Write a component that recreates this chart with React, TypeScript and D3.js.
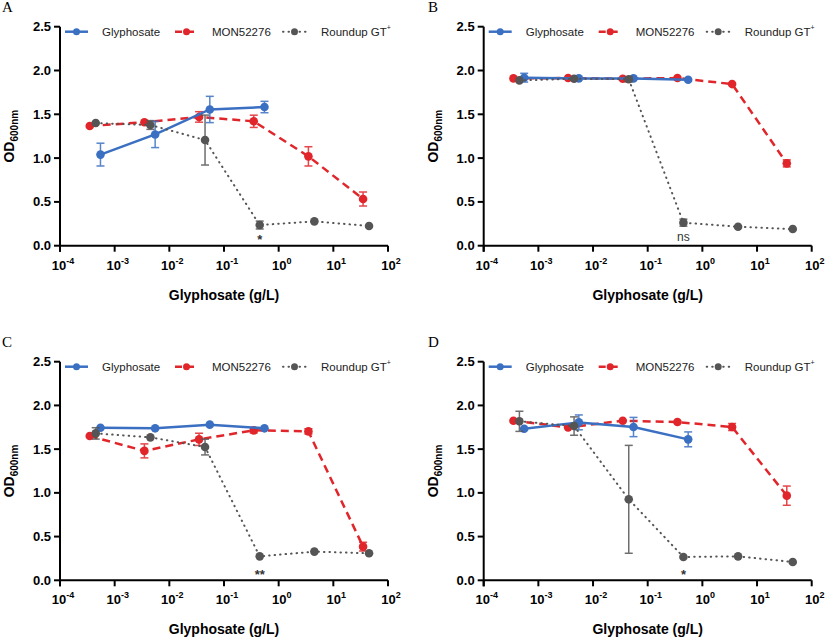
import React from "react";
import * as d3 from "d3";

// concentrations (g/L)
const xGly = [0.00055, 0.0055, 0.055, 0.55];
const xMon = [0.00035, 0.0035, 0.035, 0.35, 3.5, 35];
const xRup = [0.00045, 0.0045, 0.045, 0.45, 4.5, 45];

const panelLabels = ["A", "B", "C", "D"];

// Panel A
const glyA = [1.04, 1.27, 1.555, 1.583];
const glyAErr = [0.13, 0.15, 0.15, 0.065];
const monA = [1.366, 1.41, 1.47, 1.42, 1.02, 0.533];
const monAErr = [0.02, 0.02, 0.06, 0.07, 0.11, 0.08];
const rupA = [1.4, 1.378, 1.206, 0.236, 0.278, 0.225];
const rupAErr = [0.015, 0.05, 0.285, 0.045, 0.02, 0.015];

// Panel B
const glyB = [1.918, 1.91, 1.91, 1.895];
const glyBErr = [0.05, 0.015, 0.015, 0.015];
const monB = [1.91, 1.914, 1.906, 1.914, 1.845, 0.94];
const monBErr = [0.015, 0.015, 0.02, 0.015, 0.02, 0.04];
const rupB = [1.887, 1.906, 1.9, 0.263, 0.217, 0.19];
const rupBErr = [0.02, 0.015, 0.03, 0.04, 0.015, 0.015];

// Panel C
const glyC = [1.745, 1.738, 1.78, 1.738];
const glyCErr = [0.015, 0.015, 0.015, 0.015];
const monC = [1.65, 1.48, 1.612, 1.715, 1.703, 0.385];
const monCErr = [0.02, 0.08, 0.07, 0.03, 0.03, 0.05];
const rupC = [1.68, 1.635, 1.524, 0.274, 0.328, 0.309];
const rupCErr = [0.065, 0.015, 0.09, 0.015, 0.015, 0.015];

// Panel D
const glyD = [1.734, 1.806, 1.753, 1.612];
const glyDErr = [0.015, 0.085, 0.11, 0.085];
const monD = [1.825, 1.749, 1.825, 1.81, 1.753, 0.968];
const monDErr = [0.015, 0.015, 0.015, 0.015, 0.04, 0.11];
const rupD = [1.818, 1.764, 0.926, 0.267, 0.274, 0.21];
const rupDErr = [0.115, 0.105, 0.617, 0.015, 0.015, 0.015];

const sigLabels = ["*", "ns", "**", "*"];
const sigX = 0.45;

const yTicks = [0, 0.5, 1.0, 1.5, 2.0, 2.5];
const xTickExps = [-4, -3, -2, -1, 0, 1, 2];
const legendNames = ["Glyphosate", "MON52276", "Roundup GT"];

const BLUE = "#3a6fc2";
const RED = "#e0262b";
const GRAY = "#555555";
const FONT = "'Liberation Sans', Arial, Helvetica, sans-serif";

type PanelData = {
  gly: number[]; glyErr: number[];
  mon: number[]; monErr: number[];
  rup: number[]; rupErr: number[];
};

const panels: PanelData[] = [
  { gly: glyA, glyErr: glyAErr, mon: monA, monErr: monAErr, rup: rupA, rupErr: rupAErr },
  { gly: glyB, glyErr: glyBErr, mon: monB, monErr: monBErr, rup: rupB, rupErr: rupBErr },
  { gly: glyC, glyErr: glyCErr, mon: monC, monErr: monCErr, rup: rupC, rupErr: rupCErr },
  { gly: glyD, glyErr: glyDErr, mon: monD, monErr: monDErr, rup: rupD, rupErr: rupDErr },
];

const offsets = [
  { ox: 0, oy: 0, ax: 60, top: 26.7, bot: 245.7 },
  { ox: 412, oy: 0, ax: 71.7, top: 26.7, bot: 245.7 },
  { ox: 0, oy: 320, ax: 60, top: 41.7, bot: 260.3 },
  { ox: 412, oy: 320, ax: 71.7, top: 41.7, bot: 260.3 },
];

const AXW = 328;

function Series({ xs, ys, errs, x, y, color, dash, width, cap }: any) {
  const line = d3.line<number>().x((_, i) => x(xs[i])).y((d) => y(d));
  return (
    <g>
      <path d={line(ys) || ""} fill="none" stroke={color} strokeWidth={width}
        strokeDasharray={dash} strokeLinecap={dash === "0.5 5" ? "round" : "butt"} />
      {ys.map((v: number, i: number) => {
        const cx = x(xs[i]);
        const e = errs[i];
        const y1 = y(v + e), y2 = y(v - e);
        return (
          <g key={i}>
            {Math.abs(y2 - y1) > 5 && (
              <g stroke={color} strokeWidth={1.5} opacity={0.85}>
                <line x1={cx} x2={cx} y1={y1} y2={y2} />
                <line x1={cx - cap} x2={cx + cap} y1={y1} y2={y1} />
                <line x1={cx - cap} x2={cx + cap} y1={y2} y2={y2} />
              </g>
            )}
            <circle cx={cx} cy={y(v)} r={4.3} fill={color} />
          </g>
        );
      })}
    </g>
  );
}

function Panel({ idx }: { idx: number }) {
  const o = offsets[idx];
  const d = panels[idx];
  const x = d3.scaleLog().domain([1e-4, 1e2]).range([o.ax, o.ax + AXW]);
  const y = d3.scaleLinear().domain([0, 2.5]).range([o.bot, o.top]);
  const legY = o.top + 5;
  const lx = o.ax + 5;
  const legendItems = [
    { name: legendNames[0], color: BLUE, dash: "none", w: 2.5, gx: 0, tx: 37 },
    { name: legendNames[1], color: RED, dash: "7 5", w: 2.5, gx: 110, tx: 147 },
    { name: legendNames[2], color: GRAY, dash: "0.5 5", w: 2, gx: 218, tx: 256 },
  ];
  const isNs = sigLabels[idx] === "ns";
  return (
    <g transform={`translate(${o.ox},${o.oy})`}>
      <text x={idx % 2 === 0 ? 2 : 16} y={idx < 2 ? 12 : 27}
        fontFamily="'Liberation Serif', 'Times New Roman', serif" fontSize={15}>{panelLabels[idx]}</text>

      {/* axes */}
      <g stroke="#000" strokeWidth={2}>
        <line x1={o.ax} x2={o.ax} y1={o.top} y2={o.bot + 6} />
        <line x1={o.ax} x2={o.ax + AXW} y1={o.bot} y2={o.bot} />
        {yTicks.map((t) => (
          <line key={t} x1={o.ax - 6} x2={o.ax} y1={y(t)} y2={y(t)} />
        ))}
        {xTickExps.map((e) => (
          <line key={e} x1={x(Math.pow(10, e))} x2={x(Math.pow(10, e))} y1={o.bot} y2={o.bot + 6} />
        ))}
      </g>
      {yTicks.map((t) => (
        <text key={t} x={o.ax - 9} y={y(t) + 4.5} textAnchor="end" fontFamily={FONT}
          fontWeight="bold" fontSize={13}>{t.toFixed(1)}</text>
      ))}
      {xTickExps.map((e) => (
        <text key={e} x={x(Math.pow(10, e)) + 3} y={o.bot + 24} textAnchor="middle" fontFamily={FONT}
          fontWeight="bold" fontSize={13}>
          10<tspan fontSize={9} dy={-6}>{e}</tspan>
        </text>
      ))}
      <text x={o.ax + AXW / 2} y={o.bot + 54} textAnchor="middle" fontFamily={FONT}
        fontWeight="bold" fontSize={14}>Glyphosate (g/L)</text>
      <text transform={`translate(${o.ax - 46},${(o.top + o.bot) / 2}) rotate(-90)`} textAnchor="middle"
        fontFamily={FONT} fontWeight="bold" fontSize={14}>
        OD<tspan fontSize={10} dy={4}>600nm</tspan>
      </text>

      {/* legend */}
      {legendItems.map((l) => (
        <g key={l.name}>
          <line x1={lx + l.gx} x2={lx + l.gx + 23} y1={legY} y2={legY} stroke={l.color}
            strokeWidth={l.w} strokeDasharray={l.dash}
            strokeLinecap={l.dash === "0.5 5" ? "round" : "butt"} />
          <circle cx={lx + l.gx + 11.5} cy={legY} r={3.5} fill={l.color} />
          <text x={lx + l.tx} y={legY + 4} fontFamily={FONT} fontSize={11.5} fill="#222">
            {l.name}
            {l.name === legendNames[2] && <tspan fontSize={7} dy={-6}>+</tspan>}
          </text>
        </g>
      ))}

      {/* series */}
      <Series xs={xMon} ys={d.mon} errs={d.monErr} x={x} y={y} color={RED} dash="8 5" width={2.5} cap={4} />
      <Series xs={xGly} ys={d.gly} errs={d.glyErr} x={x} y={y} color={BLUE} dash="none" width={2.5} cap={4} />
      <Series xs={xRup} ys={d.rup} errs={d.rupErr} x={x} y={y} color={GRAY} dash="0.5 5" width={2} cap={4} />

      <text x={x(sigX)} y={y(isNs ? 0.05 : 0.02)} textAnchor="middle" fontFamily={FONT}
        fontSize={isNs ? 12 : 13} fill="#333"
        fontWeight={isNs ? "normal" : "bold"}>{sigLabels[idx]}</text>
    </g>
  );
}

export default function App() {
  return (
    <svg width={825} height={641} style={{ position: "absolute", left: 0, top: 0, background: "#fff" }}>
      <rect width={825} height={641} fill="#fff" />
      {[0, 1, 2, 3].map((i) => (
        <Panel key={i} idx={i} />
      ))}
    </svg>
  );
}
